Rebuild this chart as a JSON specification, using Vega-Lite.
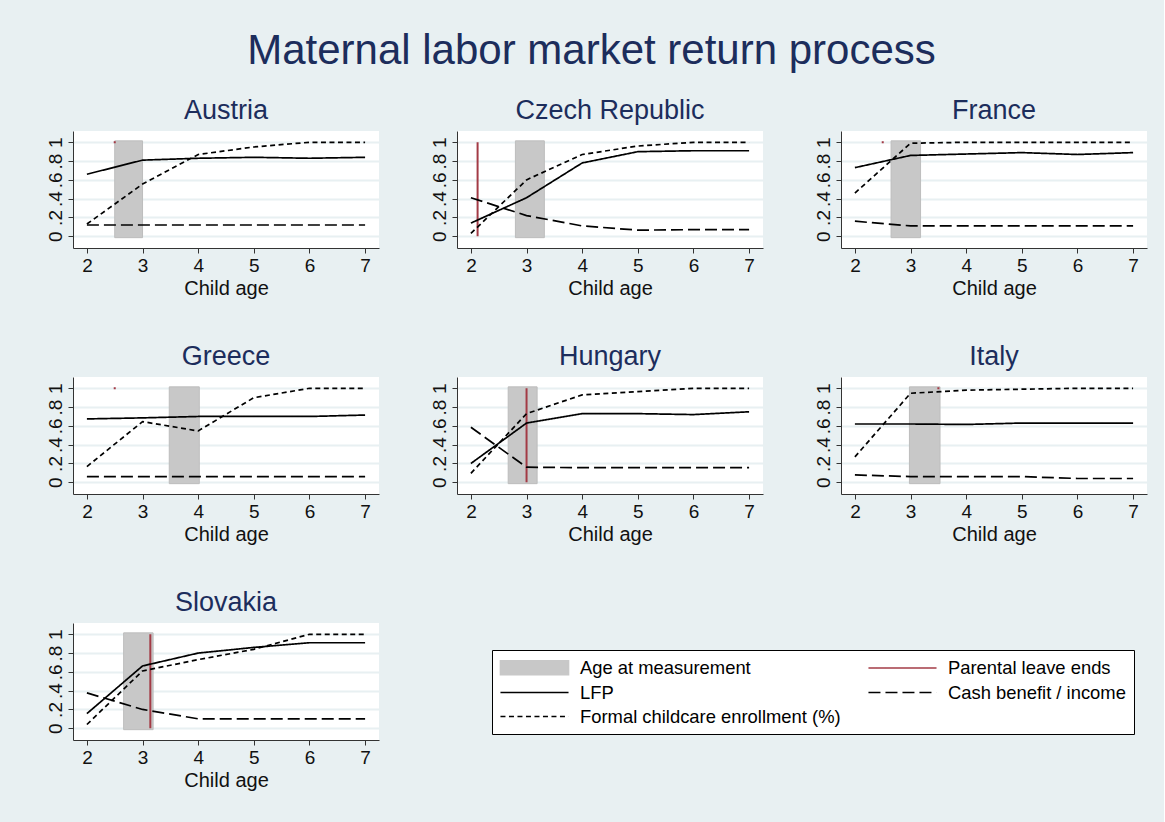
{
  "$schema": "https://vega.github.io/schema/vega-lite/v6.json",
  "background": "#e8f0f2",
  "padding": {"left": 46, "top": 30, "right": 17, "bottom": 32},
  "title": {"text": "Maternal labor market return process", "fontSize": 42, "font": "Liberation Sans", "fontWeight": "normal", "color": "#1c2d5c", "anchor": "middle", "offset": 24, "dx": -5},
  "data": {"values": [
    {"country": "Austria", "series": "LFP", "age": 2, "value": 0.66},
    {"country": "Austria", "series": "LFP", "age": 3, "value": 0.81},
    {"country": "Austria", "series": "LFP", "age": 4, "value": 0.83},
    {"country": "Austria", "series": "LFP", "age": 5, "value": 0.84},
    {"country": "Austria", "series": "LFP", "age": 6, "value": 0.83},
    {"country": "Austria", "series": "LFP", "age": 7, "value": 0.84},
    {"country": "Austria", "series": "Formal childcare enrollment (%)", "age": 2, "value": 0.13},
    {"country": "Austria", "series": "Formal childcare enrollment (%)", "age": 3, "value": 0.555},
    {"country": "Austria", "series": "Formal childcare enrollment (%)", "age": 4, "value": 0.87},
    {"country": "Austria", "series": "Formal childcare enrollment (%)", "age": 5, "value": 0.95},
    {"country": "Austria", "series": "Formal childcare enrollment (%)", "age": 6, "value": 1.0},
    {"country": "Austria", "series": "Formal childcare enrollment (%)", "age": 7, "value": 1.0},
    {"country": "Austria", "series": "Cash benefit / income", "age": 2, "value": 0.12},
    {"country": "Austria", "series": "Cash benefit / income", "age": 3, "value": 0.12},
    {"country": "Austria", "series": "Cash benefit / income", "age": 4, "value": 0.12},
    {"country": "Austria", "series": "Cash benefit / income", "age": 5, "value": 0.12},
    {"country": "Austria", "series": "Cash benefit / income", "age": 6, "value": 0.12},
    {"country": "Austria", "series": "Cash benefit / income", "age": 7, "value": 0.12},
    {"country": "Austria", "series": "Age at measurement", "x0": 2.5, "x1": 3.0, "y0": -0.015, "y1": 1.015},
    {"country": "Austria", "series": "Parental leave ends", "xl": 2.5, "y0": 0.99, "y1": 1.01},

    {"country": "Czech Republic", "series": "LFP", "age": 2, "value": 0.14},
    {"country": "Czech Republic", "series": "LFP", "age": 3, "value": 0.41},
    {"country": "Czech Republic", "series": "LFP", "age": 4, "value": 0.78},
    {"country": "Czech Republic", "series": "LFP", "age": 5, "value": 0.9},
    {"country": "Czech Republic", "series": "LFP", "age": 6, "value": 0.91},
    {"country": "Czech Republic", "series": "LFP", "age": 7, "value": 0.91},
    {"country": "Czech Republic", "series": "Formal childcare enrollment (%)", "age": 2, "value": 0.03},
    {"country": "Czech Republic", "series": "Formal childcare enrollment (%)", "age": 3, "value": 0.6},
    {"country": "Czech Republic", "series": "Formal childcare enrollment (%)", "age": 4, "value": 0.87},
    {"country": "Czech Republic", "series": "Formal childcare enrollment (%)", "age": 5, "value": 0.96},
    {"country": "Czech Republic", "series": "Formal childcare enrollment (%)", "age": 6, "value": 1.0},
    {"country": "Czech Republic", "series": "Formal childcare enrollment (%)", "age": 7, "value": 1.0},
    {"country": "Czech Republic", "series": "Cash benefit / income", "age": 2, "value": 0.41},
    {"country": "Czech Republic", "series": "Cash benefit / income", "age": 3, "value": 0.22},
    {"country": "Czech Republic", "series": "Cash benefit / income", "age": 4, "value": 0.11},
    {"country": "Czech Republic", "series": "Cash benefit / income", "age": 5, "value": 0.065},
    {"country": "Czech Republic", "series": "Cash benefit / income", "age": 6, "value": 0.07},
    {"country": "Czech Republic", "series": "Cash benefit / income", "age": 7, "value": 0.07},
    {"country": "Czech Republic", "series": "Age at measurement", "x0": 2.8, "x1": 3.32, "y0": -0.015, "y1": 1.015},
    {"country": "Czech Republic", "series": "Parental leave ends", "xl": 2.12, "y0": 0, "y1": 1},

    {"country": "France", "series": "LFP", "age": 2, "value": 0.73},
    {"country": "France", "series": "LFP", "age": 3, "value": 0.86},
    {"country": "France", "series": "LFP", "age": 4, "value": 0.875},
    {"country": "France", "series": "LFP", "age": 5, "value": 0.89},
    {"country": "France", "series": "LFP", "age": 6, "value": 0.87},
    {"country": "France", "series": "LFP", "age": 7, "value": 0.89},
    {"country": "France", "series": "Formal childcare enrollment (%)", "age": 2, "value": 0.46},
    {"country": "France", "series": "Formal childcare enrollment (%)", "age": 3, "value": 0.99},
    {"country": "France", "series": "Formal childcare enrollment (%)", "age": 4, "value": 1.0},
    {"country": "France", "series": "Formal childcare enrollment (%)", "age": 5, "value": 1.0},
    {"country": "France", "series": "Formal childcare enrollment (%)", "age": 6, "value": 1.0},
    {"country": "France", "series": "Formal childcare enrollment (%)", "age": 7, "value": 1.0},
    {"country": "France", "series": "Cash benefit / income", "age": 2, "value": 0.16},
    {"country": "France", "series": "Cash benefit / income", "age": 3, "value": 0.11},
    {"country": "France", "series": "Cash benefit / income", "age": 4, "value": 0.11},
    {"country": "France", "series": "Cash benefit / income", "age": 5, "value": 0.11},
    {"country": "France", "series": "Cash benefit / income", "age": 6, "value": 0.11},
    {"country": "France", "series": "Cash benefit / income", "age": 7, "value": 0.11},
    {"country": "France", "series": "Age at measurement", "x0": 2.65, "x1": 3.18, "y0": -0.015, "y1": 1.015},
    {"country": "France", "series": "Parental leave ends", "xl": 2.5, "y0": 0.99, "y1": 1.01},

    {"country": "Greece", "series": "LFP", "age": 2, "value": 0.674},
    {"country": "Greece", "series": "LFP", "age": 3, "value": 0.685},
    {"country": "Greece", "series": "LFP", "age": 4, "value": 0.7},
    {"country": "Greece", "series": "LFP", "age": 5, "value": 0.7},
    {"country": "Greece", "series": "LFP", "age": 6, "value": 0.7},
    {"country": "Greece", "series": "LFP", "age": 7, "value": 0.715},
    {"country": "Greece", "series": "Formal childcare enrollment (%)", "age": 2, "value": 0.167},
    {"country": "Greece", "series": "Formal childcare enrollment (%)", "age": 3, "value": 0.645},
    {"country": "Greece", "series": "Formal childcare enrollment (%)", "age": 4, "value": 0.546},
    {"country": "Greece", "series": "Formal childcare enrollment (%)", "age": 5, "value": 0.9},
    {"country": "Greece", "series": "Formal childcare enrollment (%)", "age": 6, "value": 1.0},
    {"country": "Greece", "series": "Formal childcare enrollment (%)", "age": 7, "value": 1.0},
    {"country": "Greece", "series": "Cash benefit / income", "age": 2, "value": 0.06},
    {"country": "Greece", "series": "Cash benefit / income", "age": 3, "value": 0.06},
    {"country": "Greece", "series": "Cash benefit / income", "age": 4, "value": 0.06},
    {"country": "Greece", "series": "Cash benefit / income", "age": 5, "value": 0.06},
    {"country": "Greece", "series": "Cash benefit / income", "age": 6, "value": 0.06},
    {"country": "Greece", "series": "Cash benefit / income", "age": 7, "value": 0.06},
    {"country": "Greece", "series": "Age at measurement", "x0": 3.48, "x1": 4.02, "y0": -0.015, "y1": 1.015},
    {"country": "Greece", "series": "Parental leave ends", "xl": 2.5, "y0": 0.99, "y1": 1.01},

    {"country": "Hungary", "series": "LFP", "age": 2, "value": 0.2},
    {"country": "Hungary", "series": "LFP", "age": 3, "value": 0.63},
    {"country": "Hungary", "series": "LFP", "age": 4, "value": 0.73},
    {"country": "Hungary", "series": "LFP", "age": 5, "value": 0.73},
    {"country": "Hungary", "series": "LFP", "age": 6, "value": 0.72},
    {"country": "Hungary", "series": "LFP", "age": 7, "value": 0.75},
    {"country": "Hungary", "series": "Formal childcare enrollment (%)", "age": 2, "value": 0.095},
    {"country": "Hungary", "series": "Formal childcare enrollment (%)", "age": 3, "value": 0.73},
    {"country": "Hungary", "series": "Formal childcare enrollment (%)", "age": 4, "value": 0.93},
    {"country": "Hungary", "series": "Formal childcare enrollment (%)", "age": 5, "value": 0.965},
    {"country": "Hungary", "series": "Formal childcare enrollment (%)", "age": 6, "value": 1.0},
    {"country": "Hungary", "series": "Formal childcare enrollment (%)", "age": 7, "value": 1.0},
    {"country": "Hungary", "series": "Cash benefit / income", "age": 2, "value": 0.585},
    {"country": "Hungary", "series": "Cash benefit / income", "age": 3, "value": 0.16},
    {"country": "Hungary", "series": "Cash benefit / income", "age": 4, "value": 0.155},
    {"country": "Hungary", "series": "Cash benefit / income", "age": 5, "value": 0.155},
    {"country": "Hungary", "series": "Cash benefit / income", "age": 6, "value": 0.155},
    {"country": "Hungary", "series": "Cash benefit / income", "age": 7, "value": 0.155},
    {"country": "Hungary", "series": "Age at measurement", "x0": 2.67, "x1": 3.19, "y0": -0.015, "y1": 1.015},
    {"country": "Hungary", "series": "Parental leave ends", "xl": 3.0, "y0": 0, "y1": 1},

    {"country": "Italy", "series": "LFP", "age": 2, "value": 0.62},
    {"country": "Italy", "series": "LFP", "age": 3, "value": 0.62},
    {"country": "Italy", "series": "LFP", "age": 4, "value": 0.615},
    {"country": "Italy", "series": "LFP", "age": 5, "value": 0.63},
    {"country": "Italy", "series": "LFP", "age": 6, "value": 0.63},
    {"country": "Italy", "series": "LFP", "age": 7, "value": 0.63},
    {"country": "Italy", "series": "Formal childcare enrollment (%)", "age": 2, "value": 0.27},
    {"country": "Italy", "series": "Formal childcare enrollment (%)", "age": 3, "value": 0.947},
    {"country": "Italy", "series": "Formal childcare enrollment (%)", "age": 4, "value": 0.98},
    {"country": "Italy", "series": "Formal childcare enrollment (%)", "age": 5, "value": 0.99},
    {"country": "Italy", "series": "Formal childcare enrollment (%)", "age": 6, "value": 1.0},
    {"country": "Italy", "series": "Formal childcare enrollment (%)", "age": 7, "value": 1.0},
    {"country": "Italy", "series": "Cash benefit / income", "age": 2, "value": 0.078},
    {"country": "Italy", "series": "Cash benefit / income", "age": 3, "value": 0.06},
    {"country": "Italy", "series": "Cash benefit / income", "age": 4, "value": 0.06},
    {"country": "Italy", "series": "Cash benefit / income", "age": 5, "value": 0.06},
    {"country": "Italy", "series": "Cash benefit / income", "age": 6, "value": 0.04},
    {"country": "Italy", "series": "Cash benefit / income", "age": 7, "value": 0.04},
    {"country": "Italy", "series": "Age at measurement", "x0": 2.98, "x1": 3.53, "y0": -0.015, "y1": 1.015},
    {"country": "Italy", "series": "Parental leave ends", "xl": 3.5, "y0": 0.99, "y1": 1.01},

    {"country": "Slovakia", "series": "LFP", "age": 2, "value": 0.156},
    {"country": "Slovakia", "series": "LFP", "age": 3, "value": 0.663},
    {"country": "Slovakia", "series": "LFP", "age": 4, "value": 0.8},
    {"country": "Slovakia", "series": "LFP", "age": 5, "value": 0.86},
    {"country": "Slovakia", "series": "LFP", "age": 6, "value": 0.91},
    {"country": "Slovakia", "series": "LFP", "age": 7, "value": 0.91},
    {"country": "Slovakia", "series": "Formal childcare enrollment (%)", "age": 2, "value": 0.04},
    {"country": "Slovakia", "series": "Formal childcare enrollment (%)", "age": 3, "value": 0.61},
    {"country": "Slovakia", "series": "Formal childcare enrollment (%)", "age": 4, "value": 0.73},
    {"country": "Slovakia", "series": "Formal childcare enrollment (%)", "age": 5, "value": 0.84},
    {"country": "Slovakia", "series": "Formal childcare enrollment (%)", "age": 6, "value": 1.0},
    {"country": "Slovakia", "series": "Formal childcare enrollment (%)", "age": 7, "value": 1.0},
    {"country": "Slovakia", "series": "Cash benefit / income", "age": 2, "value": 0.376},
    {"country": "Slovakia", "series": "Cash benefit / income", "age": 3, "value": 0.2},
    {"country": "Slovakia", "series": "Cash benefit / income", "age": 4, "value": 0.1},
    {"country": "Slovakia", "series": "Cash benefit / income", "age": 5, "value": 0.1},
    {"country": "Slovakia", "series": "Cash benefit / income", "age": 6, "value": 0.1},
    {"country": "Slovakia", "series": "Cash benefit / income", "age": 7, "value": 0.1},
    {"country": "Slovakia", "series": "Age at measurement", "x0": 2.66, "x1": 3.19, "y0": -0.015, "y1": 1.015},
    {"country": "Slovakia", "series": "Parental leave ends", "xl": 3.14, "y0": 0, "y1": 1}
  ]},
  "facet": {"field": "country", "type": "nominal", "header": {"title": null, "labelFontSize": 27, "labelFont": "Liberation Sans", "labelColor": "#1c2d5c", "labelPadding": 6}},
  "columns": 3,
  "spacing": {"column": 51, "row": 45},
  "resolve": {"axis": {"x": "independent", "y": "independent"}},
  "spec": {
    "width": 306,
    "height": 117,
    "layer": [
      {
        "transform": [{"filter": "datum.series === 'Age at measurement'"}],
        "mark": {"type": "rect", "opacity": 1, "stroke": "#bdbdbd", "strokeWidth": 1},
        "encoding": {
          "x": {"field": "x0", "type": "quantitative", "scale": {"domain": [1.75, 7.25], "nice": false, "zero": false},
                "axis": {"values": [2, 3, 4, 5, 6, 7], "format": "d", "title": "Child age", "grid": false, "labelOverlap": false}},
          "x2": {"field": "x1"},
          "y": {"field": "y0", "type": "quantitative", "scale": {"domain": [-0.125, 1.12], "nice": false, "zero": false},
                "axis": {"values": [0, 0.2, 0.4, 0.6, 0.8, 1], "title": null, "labelAngle": -90, "labelAlign": "center", "labelBaseline": "bottom", "labelOverlap": false, "labelSeparation": -20,
                         "labelExpr": "datum.value === 0 ? '0' : datum.value === 1 ? '1' : '.' + round(datum.value * 10)"}},
          "y2": {"field": "y1"},
          "color": {"field": "series", "type": "nominal"}
        }
      },
      {
        "transform": [{"filter": "datum.series === 'Parental leave ends'"}],
        "mark": {"type": "rule", "strokeWidth": 2},
        "encoding": {
          "x": {"field": "xl", "type": "quantitative", "scale": {"domain": [1.75, 7.25], "nice": false, "zero": false},
                "axis": {"values": [2, 3, 4, 5, 6, 7], "format": "d", "title": "Child age", "grid": false, "labelOverlap": false}},
          "y": {"field": "y0", "type": "quantitative", "scale": {"domain": [-0.125, 1.12], "nice": false, "zero": false},
                "axis": {"values": [0, 0.2, 0.4, 0.6, 0.8, 1], "title": null, "labelAngle": -90, "labelAlign": "center", "labelBaseline": "bottom", "labelOverlap": false, "labelSeparation": -20,
                         "labelExpr": "datum.value === 0 ? '0' : datum.value === 1 ? '1' : '.' + round(datum.value * 10)"}},
          "y2": {"field": "y1"},
          "color": {"field": "series", "type": "nominal"},
          "strokeDash": {"field": "series", "type": "nominal"}
        }
      },
      {
        "transform": [{"filter": "datum.age != null"}],
        "mark": {"type": "line", "strokeWidth": 1.7},
        "encoding": {
          "x": {"field": "age", "type": "quantitative", "scale": {"domain": [1.75, 7.25], "nice": false, "zero": false},
                "axis": {"values": [2, 3, 4, 5, 6, 7], "format": "d", "title": "Child age", "grid": false, "labelOverlap": false}},
          "y": {"field": "value", "type": "quantitative", "scale": {"domain": [-0.125, 1.12], "nice": false, "zero": false},
                "axis": {"values": [0, 0.2, 0.4, 0.6, 0.8, 1], "title": null, "labelAngle": -90, "labelAlign": "center", "labelBaseline": "bottom", "labelOverlap": false, "labelSeparation": -20,
                         "labelExpr": "datum.value === 0 ? '0' : datum.value === 1 ? '1' : '.' + round(datum.value * 10)"}},
          "color": {"field": "series", "type": "nominal",
                    "scale": {"domain": ["Age at measurement", "LFP", "Formal childcare enrollment (%)", "Parental leave ends", "Cash benefit / income"],
                              "range": ["#c8c8c8", "#000000", "#000000", "#a33a45", "#000000"]},
                    "legend": {"orient": "none", "legendX": 419, "legendY": 519, "columns": 2, "title": null,
                               "strokeColor": "#000000", "fillColor": "#ffffff", "padding": 8, "columnPadding": 24, "rowPadding": 5,
                               "labelFontSize": 18.4, "labelColor": "#000000", "labelOffset": 36, "labelLimit": 400,
                               "symbolSize": 300, "symbolOffset": 25, "symbolStrokeWidth": 1.6, "symbolType": "stroke",
                               "encode": {"symbols": {"update": {
                                 "shape": {"signal": "datum.value === 'Age at measurement' ? 'M-3.93,-0.8H3.93V0.8H-3.93Z' : 'M-3.93,0H3.93'"},
                                 "fill": {"signal": "datum.value === 'Age at measurement' ? '#c8c8c8' : 'transparent'"},
                                 "stroke": {"signal": "datum.value === 'Age at measurement' ? '#c8c8c8' : datum.value === 'Parental leave ends' ? '#a33a45' : '#000000'"},
                                 "strokeDash": {"signal": "datum.value === 'Cash benefit / income' ? [8, 4] : datum.value === 'Formal childcare enrollment (%)' ? [3, 2.5] : [1, 0]"},
                                 "opacity": {"value": 1}
                               }}}}},
          "strokeDash": {"field": "series", "type": "nominal",
                         "scale": {"domain": ["Age at measurement", "LFP", "Formal childcare enrollment (%)", "Parental leave ends", "Cash benefit / income"],
                                   "range": [[1, 0], [1, 0], [5, 3.5], [1, 0], [12, 5]]},
                         "legend": {"orient": "none", "legendX": 419, "legendY": 519, "columns": 2, "title": null}},
          "detail": {"field": "series"}
        }
      }
    ]
  },
  "config": {
    "font": "Liberation Sans",
    "view": {"fill": "white", "stroke": null},
    "axis": {"labelFontSize": 19, "titleFontSize": 20, "titleFontWeight": "normal", "labelColor": "#111111", "titleColor": "#111111",
             "domainColor": "#333333", "tickColor": "#333333", "tickSize": 5, "labelPadding": 3, "titlePadding": 3,
             "gridColor": "#e8f0f2", "gridWidth": 1.8, "gridOpacity": 1, "labelOverlap": false},
    "axisY": {"grid": true, "labelOverlap": false}
  }
}
